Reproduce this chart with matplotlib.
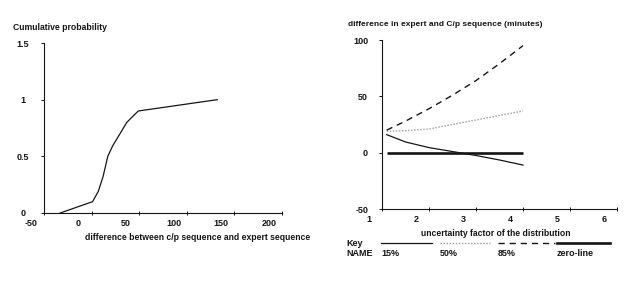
import matplotlib
matplotlib.use("Agg")
import matplotlib.pyplot as plt
from matplotlib.lines import Line2D
from matplotlib.transforms import ScaledTranslation

plt.rcParams["font.family"] = ["Liberation Sans", "DejaVu Sans"]
plt.rcParams["font.weight"] = "bold"
plt.rcParams["axes.unicode_minus"] = False

# left chart: cumulative probability curve
diff_minutes = [-33, 1, 7, 12, 17, 22, 37, 49, 132]
cum_prob = [0, 0.1, 0.19, 0.32, 0.5, 0.59, 0.8, 0.9, 1.0]
left_xticks = [-50, 0, 50, 100, 150, 200]
left_yticks = [0, 0.5, 1, 1.5]
left_yticklabels = ["0", "0.5", "1", "1.5"]

# right chart: difference vs uncertainty factor
uncertainty = [1.1, 1.5, 2, 2.5, 3, 3.5, 4]
pct15 = [16, 9.5, 4.5, 1, -2.5, -6.5, -11]
pct50 = [19, 19.5, 21, 25, 29, 33, 37]
pct85 = [20, 28, 39, 51, 64, 79, 95]
zero_line = [0, 0, 0, 0, 0, 0, 0]
right_xticks = [1, 2, 3, 4, 5, 6]
right_yticks = [-50, 0, 50, 100]

key_names = ["15%", "50%", "85%", "zero-line"]

INK = "#151515"
W, H = 640, 298

fig = plt.figure(figsize=(6.4, 2.98), dpi=100)


def fx(px):
    return px / W


def fy(py):
    return 1 - py / H


def style_axes(ax):
    for s in ("top", "right"):
        ax.spines[s].set_visible(False)
    for s in ("left", "bottom"):
        ax.spines[s].set_linewidth(0.8)
        ax.spines[s].set_color(INK)
    ax.tick_params(colors=INK, labelsize=6.5, width=0.7)


# ---- left ----
ax1 = fig.add_axes([fx(44), fy(213), fx(238), 170 / H])
style_axes(ax1)
ax1.plot(diff_minutes, cum_prob, color=INK, lw=0.9)
ax1.set_xlim(-50, 200)
ax1.set_ylim(0, 1.5)
ax1.set_xticks(left_xticks)
ax1.set_yticks(left_yticks)
ax1.set_yticklabels(left_yticklabels)
ax1.tick_params(axis="x", direction="inout", length=3, pad=3)
ax1.tick_params(axis="y", direction="out", length=2, pad=13)
for lab in ax1.get_yticklabels():
    lab.set_ha("center")

# ---- right ----
ax2 = fig.add_axes([fx(382), fy(209), fx(235), 169 / H])
style_axes(ax2)
ax2.plot(uncertainty, zero_line, color=INK, lw=1.9, solid_capstyle="butt")
ax2.plot(uncertainty, pct15, color=INK, lw=0.9)
ax2.plot(uncertainty, pct50, color="#9a9a9a", lw=1.0, ls=(0, (1, 1.2)))
ax2.plot(uncertainty, pct85, color=INK, lw=1.0, ls=(0, (4.5, 3.5)))
ax2.set_xlim(1, 6)
ax2.set_ylim(-50, 100)
ax2.set_xticks(right_xticks)
ax2.set_yticks(right_yticks)
ax2.tick_params(axis="x", direction="inout", length=3, pad=3)
ax2.tick_params(axis="y", direction="out", length=2, pad=8)

# x tick labels sit a little left of their ticks in the original
shift = ScaledTranslation(-13 / 100, 0, fig.dpi_scale_trans)
for ax in (ax1, ax2):
    for lab in ax.xaxis.get_majorticklabels():
        lab.set_transform(lab.get_transform() + shift)

# titles / axis labels
fig.text(fx(13), fy(28), "Cumulative probability", fontsize=6.2,
         color=INK, va="center", ha="left")
fig.text(fx(348), fy(25), "difference in expert and C/p sequence (minutes)",
         fontsize=6.0, color=INK, va="center", ha="left")
fig.text(fx(198), fy(238), "difference between c/p sequence and expert sequence",
         fontsize=6.2, color=INK, va="center", ha="center")
fig.text(fx(496), fy(234), "uncertainty factor of the distribution",
         fontsize=6.2, color=INK, va="center", ha="center")

# key
fig.text(fx(346), fy(244), "Key", fontsize=6.5, color=INK, va="center", ha="left")
fig.text(fx(346), fy(253), "NAME", fontsize=6.5, color=INK, va="center", ha="left")
key_x = [(381, 432), (440, 490), (498, 555), (557, 610)]
key_styles = [
    dict(color=INK, lw=0.9, ls="-"),
    dict(color="#9a9a9a", lw=1.0, ls=(0, (1, 1.2))),
    dict(color=INK, lw=1.0, ls=(0, (4.5, 3.5))),
    dict(color=INK, lw=1.9, ls="-"),
]
for (x0, x1), st, name in zip(key_x, key_styles, key_names):
    fig.add_artist(Line2D([fx(x0), fx(x1)], [fy(243), fy(243)],
                          transform=fig.transFigure, **st))
    fig.text(fx(x0), fy(253), name, fontsize=6.5, color=INK,
             va="center", ha="left")

fig.savefig("out.png", dpi=100)
